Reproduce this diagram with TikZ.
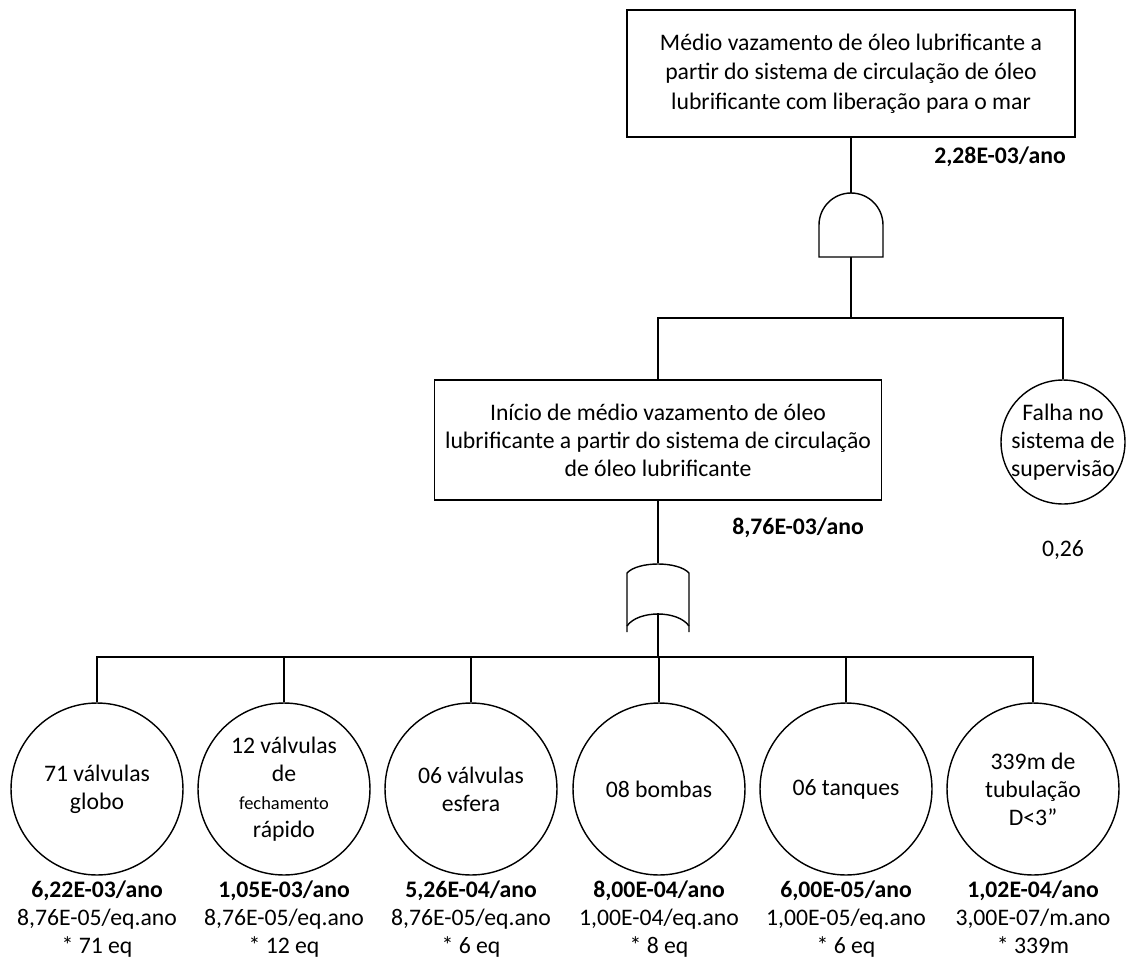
\documentclass[tikz,border=0pt]{standalone}
\usepackage{fontspec}
\setmainfont{Carlito}
\usetikzlibrary{calc}

\begin{document}
\begin{tikzpicture}[x=0.02cm, y=-0.02cm, line width=0.8pt,
    font=\fontsize{13.5}{16}\selectfont,
    event/.style={draw, rectangle, align=center, inner sep=0pt, line width=1pt},
    basic/.style={draw, circle, align=center, inner sep=-6pt, minimum size=3.44cm},
    rate/.style={align=center, inner sep=0pt}]
    \useasboundingbox (0,0) rectangle (1133,967);

    % Place the events
    \node[event, minimum width=8.96cm, minimum height=2.54cm,
        font=\fontsize{13.5}{16.8}\selectfont] (top) at (851,73.5)
        {Médio vazamento de óleo lubrificante a\\partir do sistema de circulação de óleo\\lubrificante com liberação para o mar};
    \node[rate, font=\fontsize{13.5}{16}\selectfont\bfseries] (p0) at (1000,157) {2,28E-03/ano};

    \node[event, minimum width=8.94cm, minimum height=2.4cm] (mid) at (658,440)
        {Início de médio vazamento de óleo\\lubrificante a partir do sistema de circulação\\de óleo lubrificante};
    \node[rate, font=\fontsize{13.5}{16}\selectfont\bfseries] (p1) at (798,528) {8,76E-03/ano};

    \node[basic, minimum size=2.48cm] (sup) at (1063,442) {Falha no\\sistema de\\supervisão};
    \node[rate] (p2) at (1063,550) {0,26};

    % Place the basic events
    \node[basic] (e1) at (97,789) {71 válvulas\\globo};
    \node[basic] (e2) at (284,789) {12 válvulas\\de\\{\fontsize{10.5}{16}\selectfont fechamento}\\rápido};
    \node[basic] (e3) at (471,789) {06 válvulas\\esfera};
    \node[basic] (e4) at (659,789) {08 bombas};
    \node[basic] (e5) at (846,789) {06 tanques};
    \node[basic] (e6) at (1033,789) {339m de\\tubulação\\D<3”};

    \node[rate, anchor=north] (r1) at (97,880) {\textbf{6,22E-03/ano}\\8,76E-05/eq.ano\\* 71 eq};
    \node[rate, anchor=north] (r2) at (284,880) {\textbf{1,05E-03/ano}\\8,76E-05/eq.ano\\* 12 eq};
    \node[rate, anchor=north] (r3) at (471,880) {\textbf{5,26E-04/ano}\\8,76E-05/eq.ano\\* 6 eq};
    \node[rate, anchor=north] (r4) at (659,880) {\textbf{8,00E-04/ano}\\1,00E-04/eq.ano\\* 8 eq};
    \node[rate, anchor=north] (r5) at (846,880) {\textbf{6,00E-05/ano}\\1,00E-05/eq.ano\\* 6 eq};
    \node[rate, anchor=north] (r6) at (1033,880) {\textbf{1,02E-04/ano}\\3,00E-07/m.ano\\* 339m};

    % The gates
    \coordinate (g1in) at (851,193);
    \coordinate (g1out) at (851,257);
    \draw (819,257) -- (819,225) arc[start angle=180, end angle=0, radius=0.64cm]
        -- (883,257) -- cycle;
    \coordinate (g2in) at (658,563);
    \coordinate (g2out) at (658,613);
    \draw (627,632) -- (627,573) .. controls (638,561) and (678,561) .. (689,573) -- (689,632);
    \draw (627,626) .. controls (638,610) and (678,610) .. (689,626);

    % The lines!
    \coordinate (b1) at (851,318);
    \coordinate (b2) at (658,657);
    \draw (top.south) -- (g1in);
    \draw[line width=1.2pt] (g1out) -- (b1);
    \draw (mid.north) |- (b1) -| (sup.north);
    \draw (mid.south) -- (g2in);
    \draw (g2out) -- (b2);
    \draw (e1.north) |- (b2) -| (e6.north);
    \foreach \i in {2,...,5}
        \draw (e\i.north) -- (e\i.north |- b2);
\end{tikzpicture}
\end{document}
